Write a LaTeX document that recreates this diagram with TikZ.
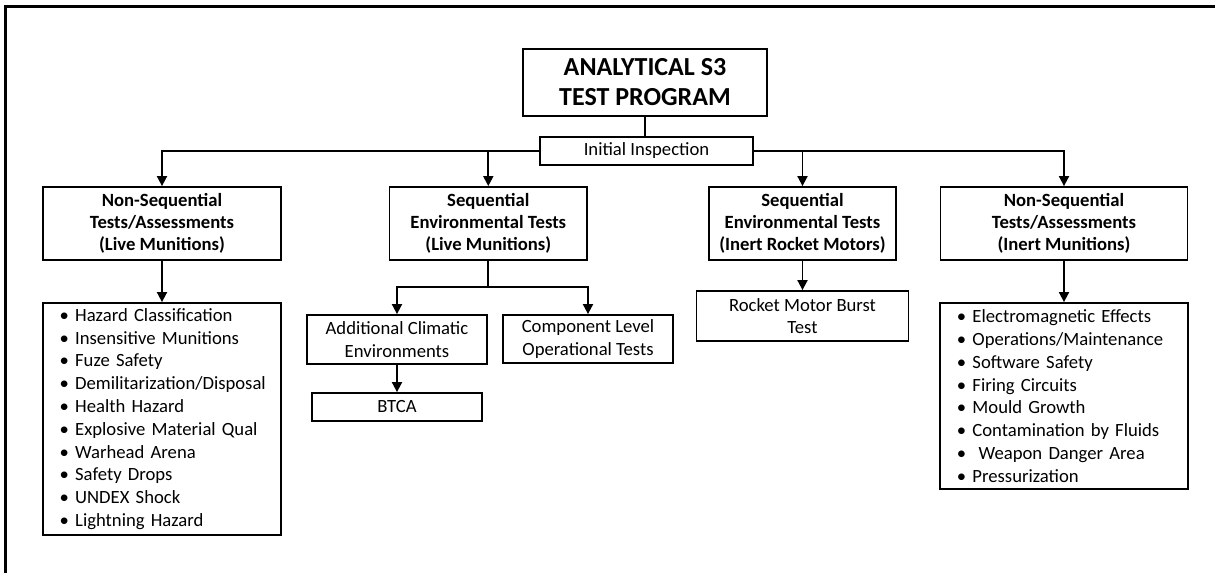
\documentclass[tikz,border=0pt]{standalone}
\usepackage{fontspec}
\setmainfont{Carlito}
\usetikzlibrary{arrows.meta,positioning,calc}
\tikzset{
  box/.style={draw=black,line width=1.35pt,align=center,inner sep=2pt,
              font=\fontsize{14}{17}\selectfont},
  head/.style={box,font=\fontsize{14}{16.5}\selectfont\bfseries,minimum height=54.75pt},
  lst/.style={box,align=left,inner xsep=12.5pt,inner ysep=0pt,
              font=\fontsize{14}{17.1}\selectfont\hyphenpenalty 10000\relax},
  arr/.style={-{Triangle[length=7.5pt,width=7.5pt]},line width=1.35pt},
  ln/.style={line width=1.35pt}
}
\begin{document}
\begin{tikzpicture}[x=0.75pt,y=-0.75pt]
    \useasboundingbox (0,0) rectangle (1215,573);
    \draw[line width=2pt] (5.5,573) -- (5.5,6.5) -- (1215,6.5);
    \node[box,font=\fontsize{19.5}{22.5}\selectfont\bfseries,minimum width=183pt,minimum height=50.25pt]
          (prog) at (645,82.5) {ANALYTICAL S3\\TEST PROGRAM};
    \node[box,minimum width=159.75pt,minimum height=21pt] (insp) at (646.5,151) {Initial Inspection};
    \node[head,minimum width=178.5pt]  (nsl) at (162,223.5)   {Non-Sequential\\Tests/Assessments\\(Live Munitions)};
    \node[head,minimum width=148.1pt]  (sel) at (488.3,223.5) {Sequential\\Environmental Tests\\(Live Munitions)};
    \node[head,minimum width=140.25pt] (ser) at (802.5,223.5) {Sequential\\Environmental Tests\\(Inert Rocket Motors)};
    \node[head,minimum width=185.25pt] (nsi) at (1064,223.5)  {Non-Sequential\\Tests/Assessments\\(Inert Munitions)};
    \node[lst,text width=153.5pt,minimum height=174pt] (lstl) at (162,419)
          {•~Hazard Classification\\•~Insensitive Munitions\\•~Fuze Safety\\•~Demilitarization/Disposal\\•~Health Hazard\\
           •~Explosive Material Qual\\•~Warhead Arena\\•~Safety Drops\\•~UNDEX Shock\\•~Lightning Hazard};
    \node[lst,text width=160.6pt,minimum height=139.5pt] (lstr) at (1064,396)
          {•~Electromagnetic Effects\\•~Operations/Maintenance\\•~Software Safety\\•~Firing Circuits\\•~Mould Growth\\
           •~Contamination by Fluids\\•~~Weapon Danger Area\\•~Pressurization};
    \node[box,minimum width=135pt,minimum height=36.75pt] (addl) at (397,339.5) {Additional Climatic\\Environments};
    \node[box,minimum width=127.5pt,minimum height=36pt]  (comp) at (588,339)   {Component Level\\Operational Tests};
    \node[box,minimum width=127.5pt,minimum height=21pt]  (btca) at (397,407)   {BTCA};
    \node[box,minimum width=159pt,minimum height=37.5pt]  (burst) at (802.5,316) {Rocket Motor Burst\\Test};
    \coordinate (split) at (488.3,287);
    \draw[ln] (prog.south) -- (prog.south |- insp.north);
    \draw[arr] (insp.west) -| (nsl.north);
    \draw[arr] (insp.east) -| (nsi.north);
    \draw[arr] (sel.north |- insp.west) -- (sel.north);
    \draw[arr] (ser.north |- insp.east) -- (ser.north);
    \draw[arr] (nsl) -- (lstl);
    \draw[arr] (nsi) -- (lstr);
    \draw[arr] (ser) -- (burst);
    \draw[ln] (sel) -- (split);
    \draw[arr] (split) -| (addl.north);
    \draw[arr] (split) -| (comp.north);
    \draw[arr] (addl) -- (btca);
  \end{tikzpicture}
\end{document}
